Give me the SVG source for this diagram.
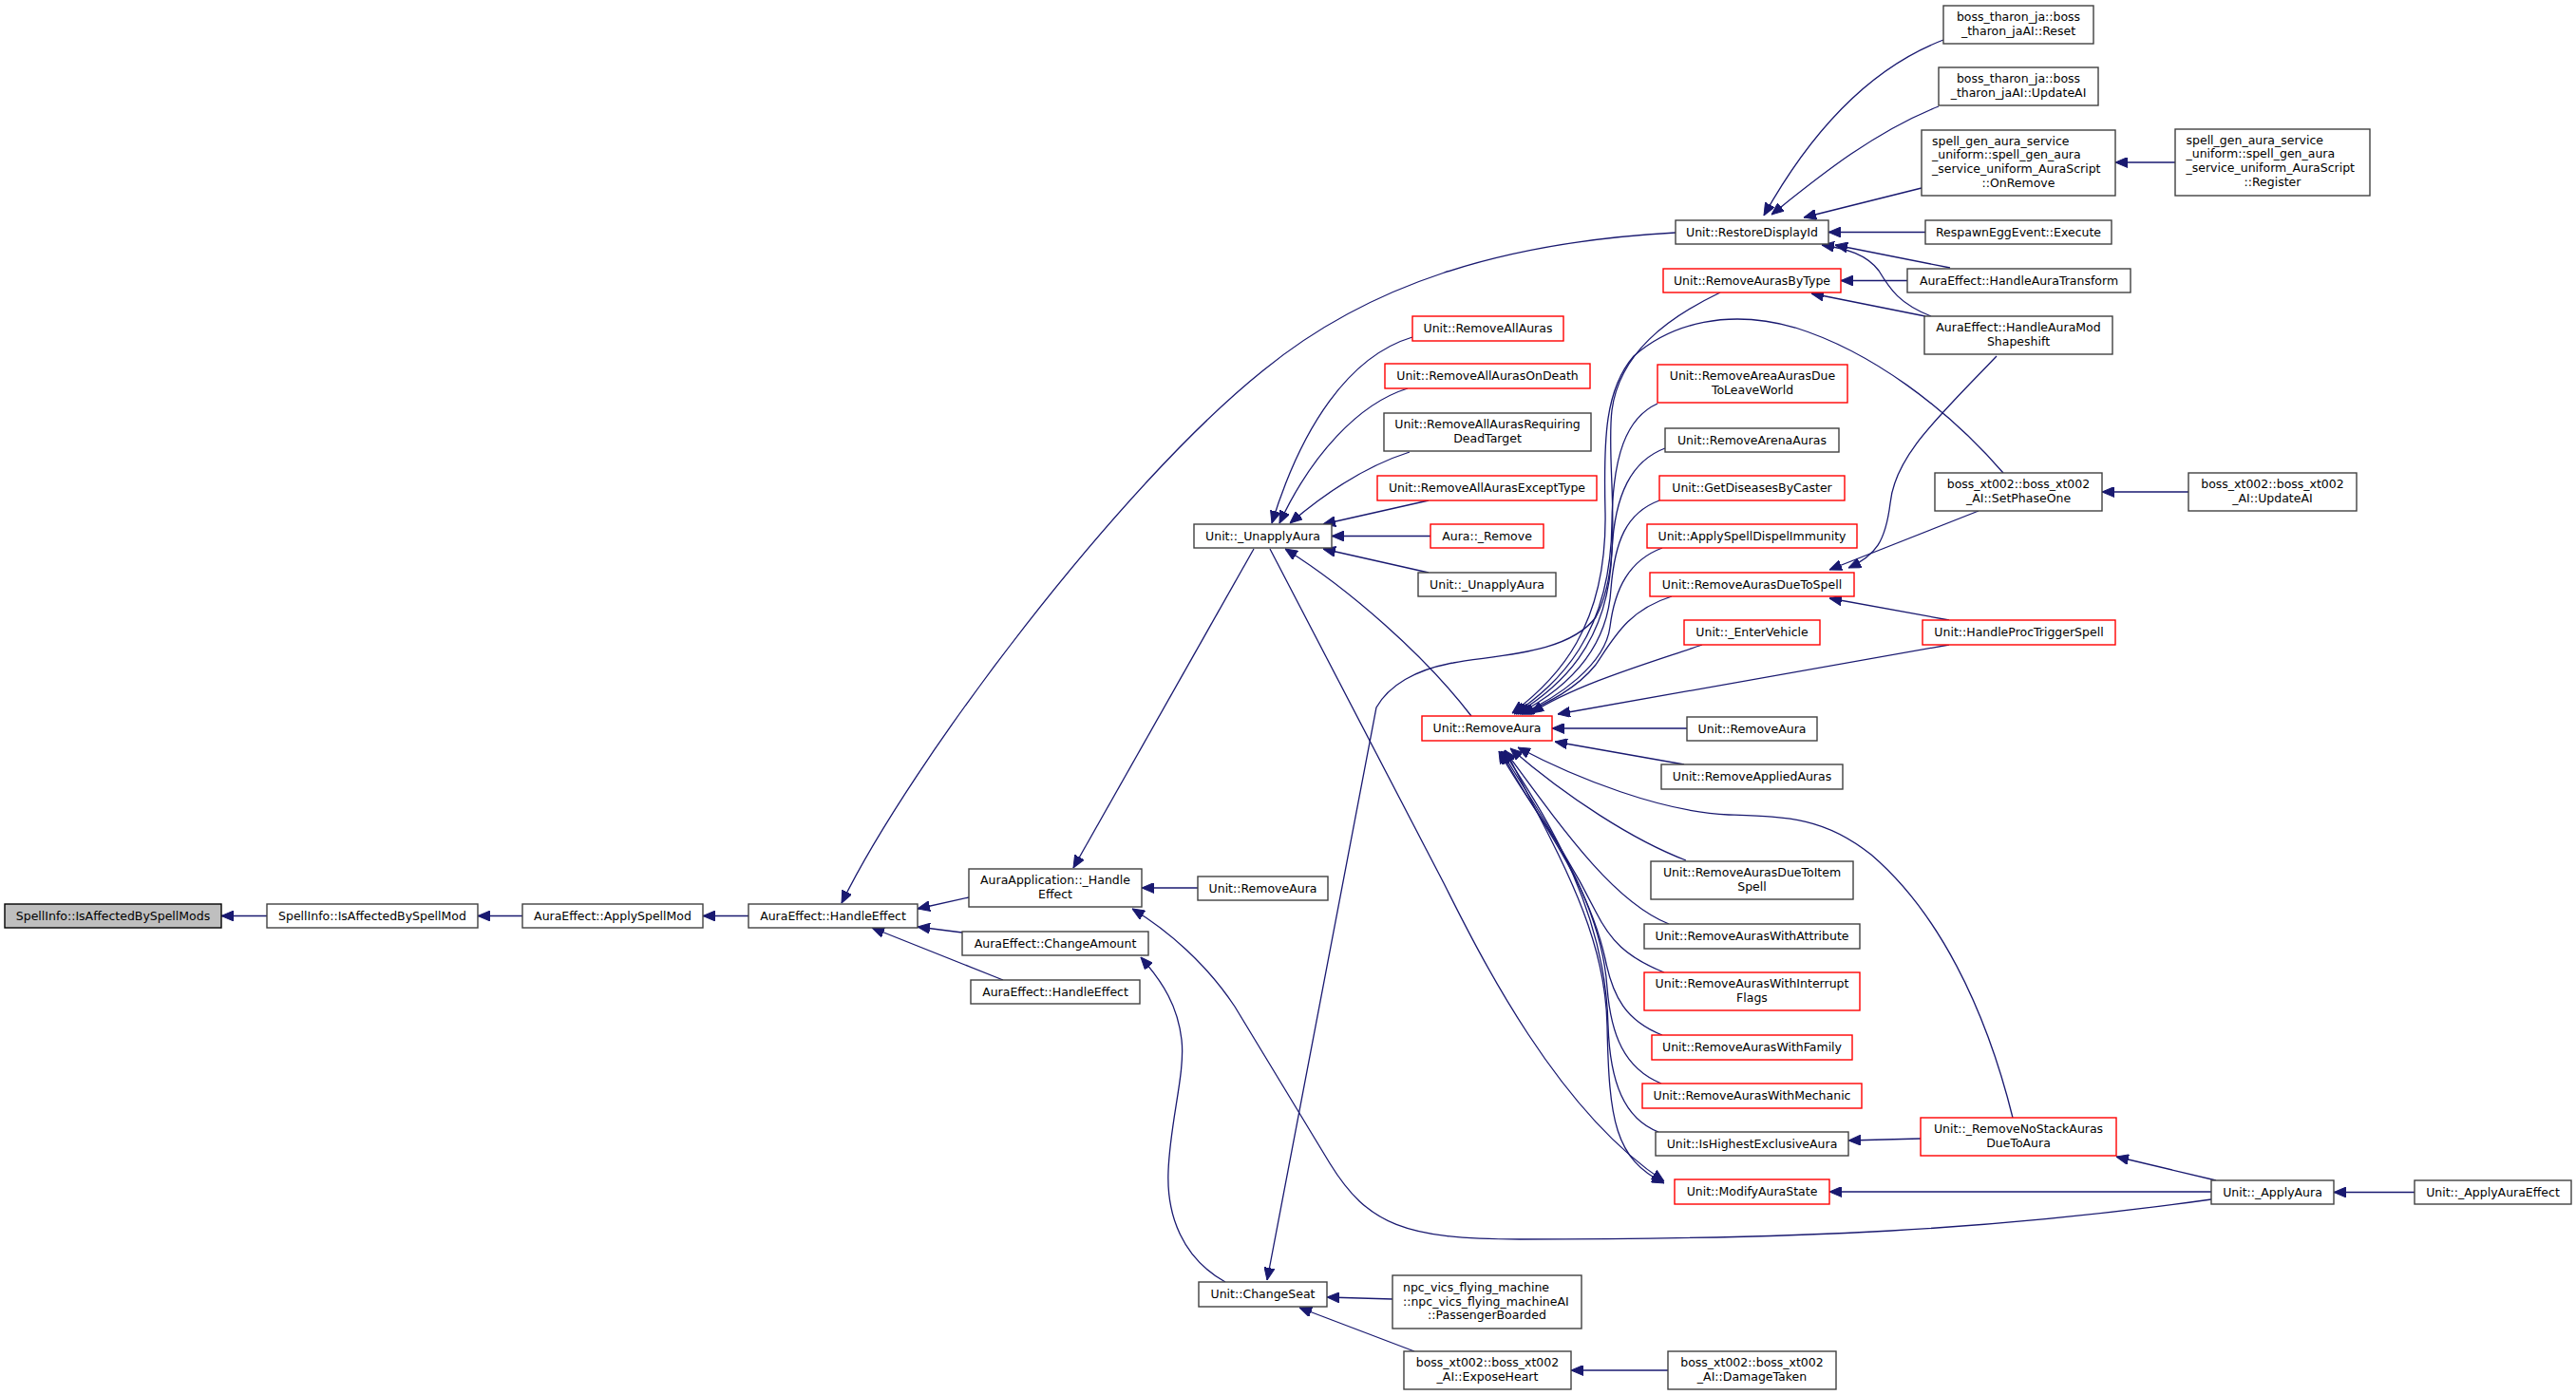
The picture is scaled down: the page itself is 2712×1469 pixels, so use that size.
<svg xmlns="http://www.w3.org/2000/svg" width="2712" height="1469" viewBox="0 0 2712 1469">
<style>
.bg{fill:#ffffff}
rect.k{fill:#ffffff;stroke:#404040;stroke-width:1.4}
rect.r{fill:#ffffff;stroke:#ff0000;stroke-width:1.4}
rect.root{fill:#bfbfbf;stroke:#000000;stroke-width:1.4}
text{font-family:"DejaVu Sans","Liberation Sans",sans-serif;font-size:12.5px;fill:#000000;text-anchor:middle}
text.l{text-anchor:start}
#edges path{fill:none;stroke:#191970;stroke-width:1.3;marker-end:url(#ah)}
</style>
<defs>
<marker id="ah" viewBox="0 0 13 11" refX="13" refY="5.5" markerWidth="13" markerHeight="11" markerUnits="userSpaceOnUse" orient="auto">
<path d="M0,0 L13,5.5 L0,11 z" fill="#191970" stroke="#191970" stroke-width="1"/>
</marker>
</defs>
<rect class="bg" x="0" y="0" width="2712" height="1469"/>
<g id="edges">
<path d="M281,964.5 L233,964.5"/>
<path d="M550,964.5 L503,964.5"/>
<path d="M788,964.5 L740,964.5"/>
<path d="M1764,245 C1580,255 1440,300 1330,390 C1180,510 960,800 886,951"/>
<path d="M1020,945 L966,957"/>
<path d="M1013,982 L966,976"/>
<path d="M1056,1032 L918,977"/>
<path d="M1320,578 L1130,914"/>
<path d="M1261,935 L1202,935"/>
<path d="M2328,1263 C2100,1295 1900,1305 1600,1305 C1480,1305 1440,1290 1400,1225 L1300,1060 C1270,1015 1230,980 1192,957"/>
<path d="M1290,1350 C1245,1325 1228,1280 1230,1233 C1232,1180 1248,1130 1244,1095 C1240,1060 1225,1035 1201,1008"/>
<path d="M1811,308 C1755,335 1705,372 1697,432 C1690,490 1712,590 1680,650 C1650,690 1570,690 1530,698 C1490,705 1462,722 1449,745 L1334,1348"/>
<path d="M1466,1368 L1397,1366"/>
<path d="M1489,1423 L1368,1377"/>
<path d="M1756,1443 L1654,1443"/>
<path d="M1487,355 C1420,375 1370,450 1339,551"/>
<path d="M1482,409 C1430,425 1380,480 1347,551"/>
<path d="M1484,476 C1440,490 1400,515 1358,551"/>
<path d="M1504,527 L1393,552"/>
<path d="M1506,564.5 L1402,564.5"/>
<path d="M1504,603 L1393,578"/>
<path d="M1549,754 C1500,690 1420,620 1353,578"/>
<path d="M1337,578 L1520,930 C1560,1010 1640,1170 1752,1244"/>
<path d="M1585,790 C1640,900 1690,980 1692,1080 C1694,1180 1700,1220 1752,1246"/>
<path d="M1752,1024 C1712,1008 1695,990 1680,960 C1640,880 1605,840 1578,791"/>
<path d="M1750,1090 C1712,1075 1698,1050 1690,1010 C1670,920 1610,850 1580,791"/>
<path d="M1749,1141 C1710,1125 1696,1090 1692,1040 C1685,940 1615,850 1581,791"/>
<path d="M1746,1192 C1710,1178 1695,1140 1693,1080 C1690,950 1620,850 1583,791"/>
<path d="M1757,973 C1700,950 1650,880 1584,790"/>
<path d="M1775,906 C1720,885 1650,840 1590,788"/>
<path d="M2119,1177 C2090,1060 2040,960 1970,900 C1920,860 1880,860 1820,858 C1750,855 1660,820 1598,787"/>
<path d="M2052,679 L1640,752"/>
<path d="M1776,767 L1634,767"/>
<path d="M1773,805 L1637,781"/>
<path d="M1792,679 C1740,697 1660,720 1612,751"/>
<path d="M1760,628 C1715,642 1700,670 1680,700 C1660,725 1630,740 1602,752"/>
<path d="M1750,577 C1715,590 1700,620 1695,660 C1690,700 1640,735 1600,752"/>
<path d="M1747,527 C1712,540 1700,570 1696,620 C1692,690 1640,730 1598,752"/>
<path d="M1753,472 C1718,485 1700,520 1697,580 C1694,680 1640,725 1596,752"/>
<path d="M1745,425 C1712,440 1698,480 1697,550 C1696,670 1640,720 1594,752"/>
<path d="M2109,498 C2050,430 1970,370 1890,345 C1820,325 1760,340 1720,375 C1690,410 1688,460 1690,540 C1692,660 1640,715 1592,751"/>
<path d="M2046,42 C1960,75 1900,150 1857,227"/>
<path d="M2041,112 C1970,140 1910,190 1865,226"/>
<path d="M2023,198 L1899,229"/>
<path d="M2027,244.5 L1925,244.5"/>
<path d="M2053,282 L1932,258"/>
<path d="M2033,333 C2000,320 1990,305 1978,285 C1965,268 1945,262 1918,258"/>
<path d="M2008,295.5 L1938,295.5"/>
<path d="M2027,333 L1907,309"/>
<path d="M2083,538 L1926,600"/>
<path d="M2102,375 C2040,440 1995,480 1990,530 C1985,570 1975,585 1946,598"/>
<path d="M2052,653 L1926,630"/>
<path d="M2290,171 L2227,171"/>
<path d="M2304,518 L2213,518"/>
<path d="M2542,1255.5 L2457,1255.5"/>
<path d="M2328,1255 L1926,1255"/>
<path d="M2333,1243 L2228,1218"/>
<path d="M2022,1199 L1946,1201"/>
</g>
<g id="n_isaffectedbyspellmods"><rect class="root" x="5" y="952" width="228" height="25"/><text x="119" y="969">SpellInfo::IsAffectedBySpellMods</text></g>
<g id="n_isaffectedbyspellmod"><rect class="k" x="281" y="952" width="222" height="25"/><text x="392" y="969">SpellInfo::IsAffectedBySpellMod</text></g>
<g id="n_applyspellmod"><rect class="k" x="550" y="952" width="190" height="25"/><text x="645" y="969">AuraEffect::ApplySpellMod</text></g>
<g id="n_handleeffect"><rect class="k" x="788" y="952" width="178" height="25"/><text x="877" y="969">AuraEffect::HandleEffect</text></g>
<g id="n_auraapp_handleeffect"><rect class="k" x="1020" y="915" width="182" height="40"/><text x="1111" y="931">AuraApplication::_Handle</text><text x="1111" y="946">Effect</text></g>
<g id="n_changeamount"><rect class="k" x="1013" y="981" width="196" height="25"/><text x="1111" y="998">AuraEffect::ChangeAmount</text></g>
<g id="n_handleeffect2"><rect class="k" x="1022" y="1032" width="178" height="25"/><text x="1111" y="1049">AuraEffect::HandleEffect</text></g>
<g id="n_unapplyaura"><rect class="k" x="1257" y="552" width="145" height="25"/><text x="1329.5" y="569">Unit::_UnapplyAura</text></g>
<g id="n_removeaura_a"><rect class="k" x="1261" y="923" width="137" height="25"/><text x="1329.5" y="940">Unit::RemoveAura</text></g>
<g id="n_changeseat"><rect class="k" x="1262" y="1350" width="135" height="26"/><text x="1329.5" y="1367">Unit::ChangeSeat</text></g>
<g id="n_removeallauras"><rect class="r" x="1487" y="333" width="159" height="26"/><text x="1566.5" y="350">Unit::RemoveAllAuras</text></g>
<g id="n_removeallaurasondeath"><rect class="r" x="1458" y="383" width="216" height="26"/><text x="1566" y="400">Unit::RemoveAllAurasOnDeath</text></g>
<g id="n_removeallaurasrequiring"><rect class="k" x="1457" y="435" width="218" height="40"/><text x="1566" y="451">Unit::RemoveAllAurasRequiring</text><text x="1566" y="466">DeadTarget</text></g>
<g id="n_removeallaurasexcepttype"><rect class="r" x="1450" y="501" width="231" height="26"/><text x="1565.5" y="518">Unit::RemoveAllAurasExceptType</text></g>
<g id="n_aura_remove"><rect class="r" x="1506" y="552" width="119" height="25"/><text x="1565.5" y="569">Aura::_Remove</text></g>
<g id="n_unapplyaura2"><rect class="k" x="1493" y="603" width="145" height="25"/><text x="1565.5" y="620">Unit::_UnapplyAura</text></g>
<g id="n_removeaura_main"><rect class="r" x="1497" y="754" width="137" height="26"/><text x="1565.5" y="771">Unit::RemoveAura</text></g>
<g id="n_passengerboarded"><rect class="k" x="1466" y="1343" width="199" height="56"/><text class="l" x="1477" y="1360">npc_vics_flying_machine</text><text class="l" x="1477" y="1374.5">::npc_vics_flying_machineAI</text><text x="1565.5" y="1389">::PassengerBoarded</text></g>
<g id="n_exposeheart"><rect class="k" x="1478" y="1423" width="176" height="40"/><text x="1566" y="1439">boss_xt002::boss_xt002</text><text x="1566" y="1454">_AI::ExposeHeart</text></g>
<g id="n_restoredisplayid"><rect class="k" x="1764" y="232" width="161" height="25"/><text x="1844.5" y="249">Unit::RestoreDisplayId</text></g>
<g id="n_removeaurasbytype"><rect class="r" x="1751" y="283" width="187" height="25"/><text x="1844.5" y="300">Unit::RemoveAurasByType</text></g>
<g id="n_removeareaauras"><rect class="r" x="1745" y="384" width="200" height="40"/><text x="1845" y="400">Unit::RemoveAreaAurasDue</text><text x="1845" y="415">ToLeaveWorld</text></g>
<g id="n_removearenaauras"><rect class="k" x="1753" y="451" width="183" height="25"/><text x="1844.5" y="468">Unit::RemoveArenaAuras</text></g>
<g id="n_getdiseasesbycaster"><rect class="r" x="1747" y="501" width="195" height="26"/><text x="1844.5" y="518">Unit::GetDiseasesByCaster</text></g>
<g id="n_applyspelldispelimmunity"><rect class="r" x="1734" y="552" width="221" height="25"/><text x="1844.5" y="569">Unit::ApplySpellDispelImmunity</text></g>
<g id="n_removeaurasduetospell"><rect class="r" x="1737" y="603" width="215" height="25"/><text x="1844.5" y="620">Unit::RemoveAurasDueToSpell</text></g>
<g id="n_entervehicle"><rect class="r" x="1773" y="653" width="143" height="26"/><text x="1844.5" y="670">Unit::_EnterVehicle</text></g>
<g id="n_removeaura_b"><rect class="k" x="1776" y="755" width="137" height="25"/><text x="1844.5" y="772">Unit::RemoveAura</text></g>
<g id="n_removeappliedauras"><rect class="k" x="1749" y="805" width="191" height="26"/><text x="1844.5" y="822">Unit::RemoveAppliedAuras</text></g>
<g id="n_removeaurasduetoitemspell"><rect class="k" x="1738" y="907" width="213" height="40"/><text x="1844.5" y="923">Unit::RemoveAurasDueToItem</text><text x="1844.5" y="938">Spell</text></g>
<g id="n_removeauraswithattribute"><rect class="k" x="1731" y="973" width="227" height="26"/><text x="1844.5" y="990">Unit::RemoveAurasWithAttribute</text></g>
<g id="n_removeauraswithinterrupt"><rect class="r" x="1731" y="1024" width="227" height="40"/><text x="1844.5" y="1040">Unit::RemoveAurasWithInterrupt</text><text x="1844.5" y="1055">Flags</text></g>
<g id="n_removeauraswithfamily"><rect class="r" x="1739" y="1090" width="211" height="26"/><text x="1844.5" y="1107">Unit::RemoveAurasWithFamily</text></g>
<g id="n_removeauraswithmechanic"><rect class="r" x="1729" y="1141" width="231" height="26"/><text x="1844.5" y="1158">Unit::RemoveAurasWithMechanic</text></g>
<g id="n_ishighestexclusiveaura"><rect class="k" x="1743" y="1192" width="203" height="25"/><text x="1844.5" y="1209">Unit::IsHighestExclusiveAura</text></g>
<g id="n_modifyaurastate"><rect class="r" x="1763" y="1242" width="163" height="26"/><text x="1844.5" y="1259">Unit::ModifyAuraState</text></g>
<g id="n_damagetaken"><rect class="k" x="1756" y="1423" width="177" height="40"/><text x="1844.5" y="1439">boss_xt002::boss_xt002</text><text x="1844.5" y="1454">_AI::DamageTaken</text></g>
<g id="n_tharon_reset"><rect class="k" x="2046" y="6" width="158" height="40"/><text x="2125" y="22">boss_tharon_ja::boss</text><text x="2125" y="37">_tharon_jaAI::Reset</text></g>
<g id="n_tharon_updateai"><rect class="k" x="2041" y="71" width="168" height="40"/><text x="2125" y="87">boss_tharon_ja::boss</text><text x="2125" y="102">_tharon_jaAI::UpdateAI</text></g>
<g id="n_onremove"><rect class="k" x="2023" y="137" width="204" height="69"/><text class="l" x="2034" y="152.7">spell_gen_aura_service</text><text class="l" x="2034" y="167.4">_uniform::spell_gen_aura</text><text class="l" x="2034" y="182.1">_service_uniform_AuraScript</text><text x="2125" y="196.8">::OnRemove</text></g>
<g id="n_respawneggevent"><rect class="k" x="2027" y="232" width="196" height="25"/><text x="2125" y="249">RespawnEggEvent::Execute</text></g>
<g id="n_handleauratransform"><rect class="k" x="2008" y="283" width="235" height="25"/><text x="2125.5" y="300">AuraEffect::HandleAuraTransform</text></g>
<g id="n_handleauramodshapeshift"><rect class="k" x="2026" y="333" width="198" height="40"/><text x="2125" y="349">AuraEffect::HandleAuraMod</text><text x="2125" y="364">Shapeshift</text></g>
<g id="n_setphaseone"><rect class="k" x="2037" y="498" width="176" height="40"/><text x="2125" y="514">boss_xt002::boss_xt002</text><text x="2125" y="529">_AI::SetPhaseOne</text></g>
<g id="n_handleproctriggerspell"><rect class="r" x="2024" y="653" width="203" height="26"/><text x="2125.5" y="670">Unit::HandleProcTriggerSpell</text></g>
<g id="n_removenostackauras"><rect class="r" x="2022" y="1177" width="206" height="40"/><text x="2125" y="1193">Unit::_RemoveNoStackAuras</text><text x="2125" y="1208">DueToAura</text></g>
<g id="n_register"><rect class="k" x="2290" y="136" width="205" height="70"/><text class="l" x="2301.5" y="151.7">spell_gen_aura_service</text><text class="l" x="2301.5" y="166.4">_uniform::spell_gen_aura</text><text class="l" x="2301.5" y="181.1">_service_uniform_AuraScript</text><text x="2392.5" y="195.8">::Register</text></g>
<g id="n_xt002_updateai"><rect class="k" x="2304" y="498" width="177" height="40"/><text x="2392.5" y="514">boss_xt002::boss_xt002</text><text x="2392.5" y="529">_AI::UpdateAI</text></g>
<g id="n_applyaura"><rect class="k" x="2328" y="1243" width="129" height="25"/><text x="2392.5" y="1260">Unit::_ApplyAura</text></g>
<g id="n_applyauraeffect"><rect class="k" x="2542" y="1243" width="165" height="25"/><text x="2624.5" y="1260">Unit::_ApplyAuraEffect</text></g>
</svg>
